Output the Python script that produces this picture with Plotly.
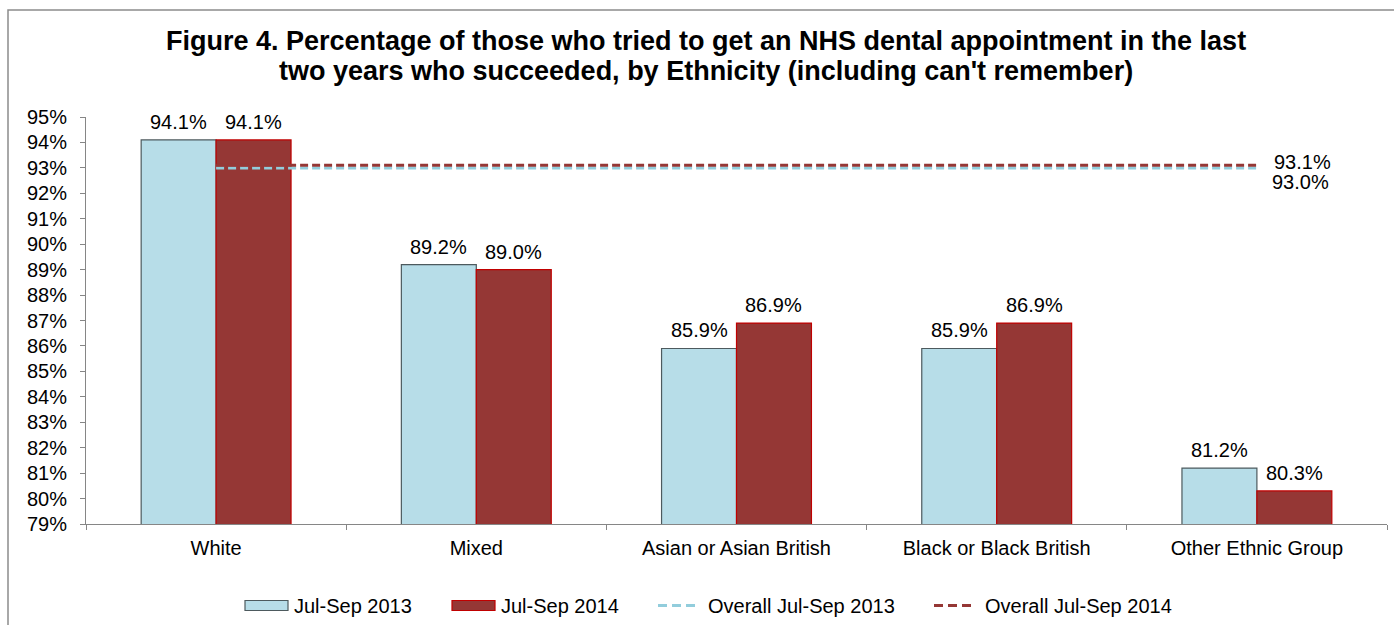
import plotly.graph_objects as go

categories = ["White", "Mixed", "Asian or Asian British", "Black or Black British", "Other Ethnic Group"]
jul_sep_2013 = [94.1, 89.2, 85.9, 85.9, 81.2]
jul_sep_2014 = [94.1, 89.0, 86.9, 86.9, 80.3]
overall_2013 = 93.0
overall_2014 = 93.1
series_names = ["Jul-Sep 2013", "Jul-Sep 2014", "Overall Jul-Sep 2013", "Overall Jul-Sep 2014"]
title_lines = [
    "Figure 4. Percentage of those who tried to get an NHS dental appointment in the last",
    "two years who succeeded, by Ethnicity (including can't remember)",
]

FONT = "Liberation Sans, Arial, sans-serif"
W, H = 1394, 625
ML, MR, MT, MB = 86, 7, 117, 101
PW, PH = W - ML - MR, H - MT - MB

C13_FILL, C13_EDGE = "#B7DDE8", "#4D5A5E"
C14_FILL, C14_EDGE = "#953735", "#C00000"
C13_LINE, C14_LINE = "#92CDDC", "#953735"
DASH = "8px,4px"


def px_x(px):
    return (px - ML) / PW


def px_y(py):
    return (H - MB - py) / PH


fig = go.Figure()

fig.add_trace(go.Bar(
    x=categories, y=jul_sep_2013, name=series_names[0], showlegend=False,
    marker=dict(color=C13_FILL, line=dict(color=C13_EDGE, width=1.2)),
))
fig.add_trace(go.Bar(
    x=categories, y=jul_sep_2014, name=series_names[1], showlegend=False,
    marker=dict(color=C14_FILL, line=dict(color=C14_EDGE, width=1.2)),
))
fig.add_trace(go.Scatter(
    x=categories, y=[overall_2013] * len(categories), name=series_names[2], showlegend=False,
    mode="lines", line=dict(color=C13_LINE, width=3, dash=DASH),
))
fig.add_trace(go.Scatter(
    x=categories, y=[overall_2014] * len(categories), name=series_names[3], showlegend=False,
    mode="lines", line=dict(color=C14_LINE, width=3, dash=DASH),
))

label_font = dict(family=FONT, size=20, color="#000000")
bar_half = PW / len(categories) * (1 - 0.424) / 4

# value labels above each bar
for cat, v13, v14 in zip(categories, jul_sep_2013, jul_sep_2014):
    fig.add_annotation(x=cat, y=v13, text=f"{v13:.1f}%", showarrow=False,
                       xanchor="center", yanchor="middle", xshift=-bar_half, yshift=18,
                       font=label_font)
    fig.add_annotation(x=cat, y=v14, text=f"{v14:.1f}%", showarrow=False,
                       xanchor="center", yanchor="middle", xshift=bar_half, yshift=18,
                       font=label_font)

# value labels for the overall lines, at the right end
fig.add_annotation(x=categories[-1], y=overall_2014, text=f"{overall_2014:.1f}%",
                   xanchor="left", yanchor="middle", xshift=15, yshift=3, showarrow=False,
                   font=label_font)
fig.add_annotation(x=categories[-1], y=overall_2013, text=f"{overall_2013:.1f}%",
                   xanchor="left", yanchor="middle", xshift=13, yshift=-14, showarrow=False,
                   font=label_font)

# two-line bold title
for i, line in enumerate(title_lines):
    fig.add_annotation(xref="paper", yref="paper", x=px_x(706), y=px_y(41 + 30 * i),
                       text=f"<b>{line}</b>", showarrow=False, xanchor="center", yanchor="middle",
                       font=dict(family=FONT, size=27, color="#000000"))

# legend row
legend_y = px_y(605.5)
box_top, box_bot = px_y(600.5), px_y(610.5)
legend_items = [
    (series_names[0], "box", C13_FILL, C13_EDGE, 245, 288, 292),
    (series_names[1], "box", C14_FILL, C14_EDGE, 452, 495, 499),
    (series_names[2], "line", C13_LINE, None, 658, 697, 706),
    (series_names[3], "line", C14_LINE, None, 934, 974, 983),
]
for name, kind, col, edge, x0, x1, tx in legend_items:
    if kind == "box":
        fig.add_shape(type="rect", xref="paper", yref="paper",
                      x0=px_x(x0), x1=px_x(x1), y0=box_bot, y1=box_top,
                      fillcolor=col, line=dict(color=edge, width=1.2))
    else:
        fig.add_shape(type="line", xref="paper", yref="paper",
                      x0=px_x(x0), x1=px_x(x1), y0=legend_y, y1=legend_y,
                      line=dict(color=col, width=3, dash="9px,5px"))
    fig.add_annotation(xref="paper", yref="paper", x=px_x(tx), y=legend_y, text=name,
                       showarrow=False, xanchor="left", yanchor="middle", font=label_font)

# chart frame
fig.add_shape(type="rect", xref="paper", yref="paper",
              x0=px_x(8), x1=px_x(W + 10), y0=px_y(H + 10), y1=px_y(10),
              line=dict(color="#8C8C8C", width=1.5), fillcolor="rgba(0,0,0,0)", layer="below")

fig.update_layout(
    width=W, height=H,
    margin=dict(l=ML, r=MR, t=MT, b=MB),
    paper_bgcolor="#FFFFFF", plot_bgcolor="#FFFFFF",
    font=dict(family=FONT, size=20, color="#000000"),
    barmode="group", bargap=0.424, bargroupgap=0,
    showlegend=False,
    hovermode=False,
)
fig.update_yaxes(range=[79, 95], dtick=1, ticksuffix="%", showgrid=False, zeroline=False,
                 showline=True, linecolor="#868686", linewidth=1,
                 ticks="outside", ticklen=5, tickcolor="#868686", ticklabelstandoff=9,
                 tickfont=dict(family=FONT, size=20))
fig.update_xaxes(showgrid=False, showline=True, linecolor="#868686", linewidth=1,
                 ticks="outside", ticklen=5, tickcolor="#868686", tickson="boundaries",
                 ticklabelstandoff=6, tickfont=dict(family=FONT, size=20))

fig.write_html("out.html")
